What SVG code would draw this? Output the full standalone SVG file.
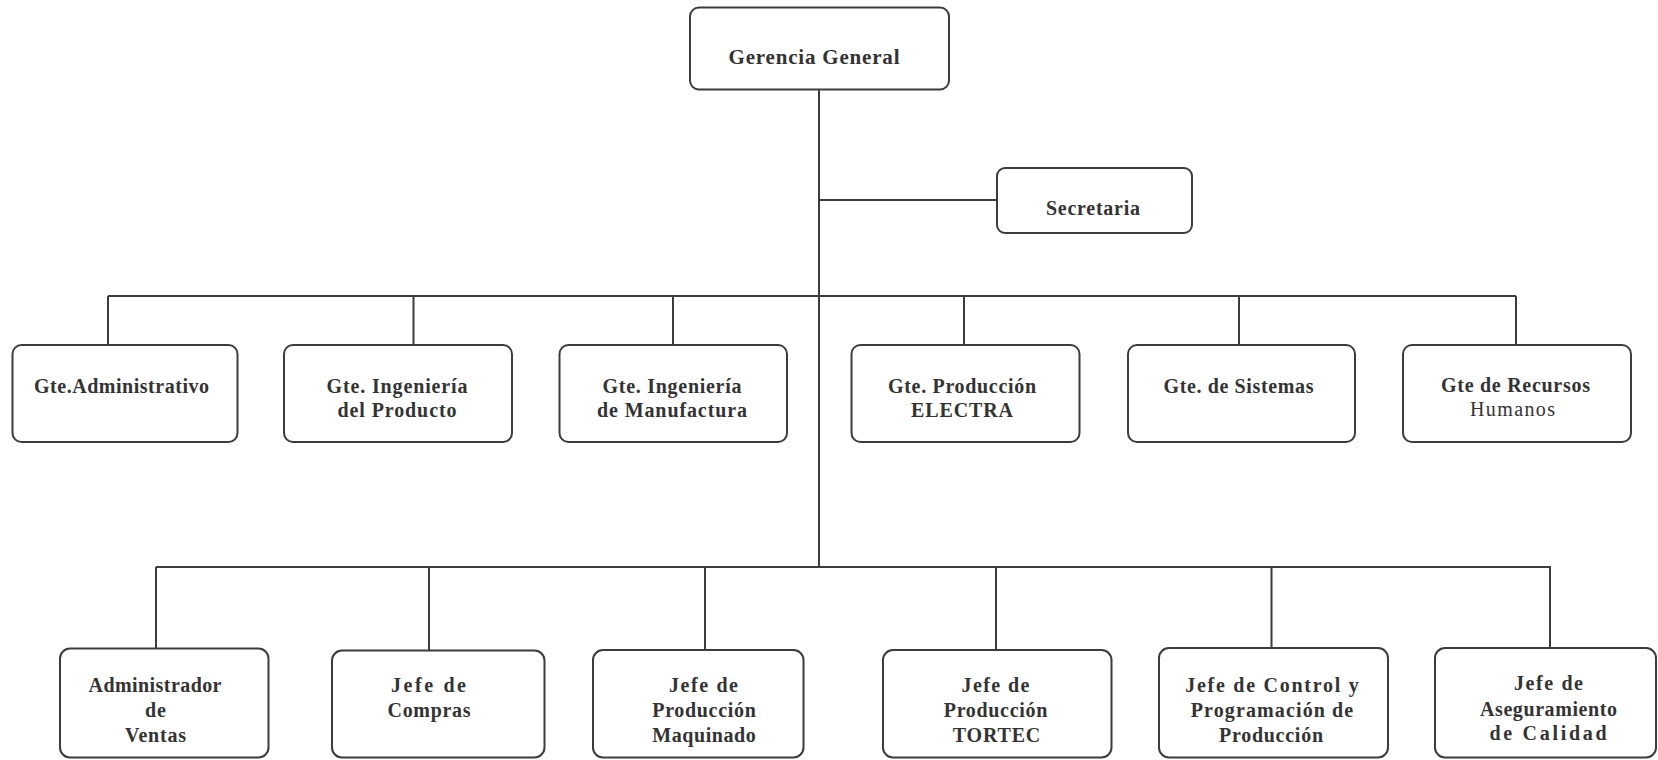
<svg xmlns="http://www.w3.org/2000/svg" width="1658" height="760" viewBox="0 0 1658 760">
<style>
.box{fill:#fff;stroke:#3c3c3c;stroke-width:2}
.ln{stroke:#3c3c3c;stroke-width:2;fill:none}
text{font-family:"Liberation Serif","Times New Roman",serif;font-weight:bold;fill:#333;text-anchor:middle}
.t1{font-size:21px}
.t2{font-size:20px}
.t3{font-size:20px}
.reg{font-weight:normal}
</style>
<rect width="1658" height="760" fill="#fff"/>
<g id="connectors">
<path class="ln" d="M819 89 V567"/>
<path class="ln" d="M819 200 H997"/>
<path class="ln" d="M108 296 H1516"/>
<path class="ln" d="M108 296 V345 M413.5 296 V345 M673 296 V345 M964 296 V345 M1239 296 V345 M1516 296 V345"/>
<path class="ln" d="M156 567 H1551"/>
<path class="ln" d="M156 567 V649 M429 567 V651 M705 567 V650 M996 567 V650 M1271.5 567 V648 M1550 567 V648"/>
</g>
<g id="gerencia"><rect class="box" x="690" y="7.5" width="259" height="82" rx="9"/><text class="t1" x="814" y="64" textLength="171" lengthAdjust="spacing">Gerencia General</text></g>
<g id="secretaria"><rect class="box" x="997" y="168" width="195" height="65" rx="8"/><text class="t2" x="1093" y="215" textLength="94" lengthAdjust="spacing">Secretaria</text></g>
<g id="gte-admin"><rect class="box" x="12.5" y="345" width="225" height="97" rx="9"/><text class="t2" x="121.5" y="393" textLength="175" lengthAdjust="spacing">Gte.Administrativo</text></g>
<g id="gte-ing-prod"><rect class="box" x="284" y="345" width="228" height="97" rx="9"/><text class="t2" x="397" y="393" textLength="141" lengthAdjust="spacing">Gte. Ingeniería</text><text class="t2" x="397" y="417" textLength="119" lengthAdjust="spacing">del Producto</text></g>
<g id="gte-ing-manu"><rect class="box" x="559.5" y="345" width="227.5" height="97" rx="9"/><text class="t2" x="672" y="393" textLength="139" lengthAdjust="spacing">Gte. Ingeniería</text><text class="t2" x="672" y="417" textLength="150" lengthAdjust="spacing">de Manufactura</text></g>
<g id="gte-prod-electra"><rect class="box" x="851.5" y="345" width="228" height="97" rx="9"/><text class="t2" x="962" y="393" textLength="148" lengthAdjust="spacing">Gte. Producción</text><text class="t2" x="962" y="417" textLength="102" lengthAdjust="spacing">ELECTRA</text></g>
<g id="gte-sistemas"><rect class="box" x="1128" y="345" width="227" height="97" rx="9"/><text class="t2" x="1238.5" y="393" textLength="150" lengthAdjust="spacing">Gte. de Sistemas</text></g>
<g id="gte-rrhh"><rect class="box" x="1403" y="345" width="228" height="97" rx="9"/><text class="t2" x="1515.5" y="392" textLength="149" lengthAdjust="spacing">Gte de Recursos</text><text class="t2 reg" x="1512.5" y="416" textLength="85" lengthAdjust="spacing">Humanos</text></g>
<g id="adm-ventas"><rect class="box" x="60" y="648.5" width="208.5" height="109" rx="10"/><text class="t3" x="155" y="692" textLength="133" lengthAdjust="spacing">Administrador</text><text class="t3" x="155.5" y="716.5" textLength="21" lengthAdjust="spacing">de</text><text class="t3" x="155.5" y="741.5" textLength="61" lengthAdjust="spacing">Ventas</text></g>
<g id="jefe-compras"><rect class="box" x="332" y="650.5" width="212.5" height="107" rx="10"/><text class="t3" x="428.5" y="692" textLength="75" lengthAdjust="spacing">Jefe de</text><text class="t3" x="429" y="717" textLength="83" lengthAdjust="spacing">Compras</text></g>
<g id="jefe-maquinado"><rect class="box" x="593" y="650" width="210.5" height="107.5" rx="10"/><text class="t3" x="703.5" y="692" textLength="69" lengthAdjust="spacing">Jefe de</text><text class="t3" x="704" y="717" textLength="103.5" lengthAdjust="spacing">Producción</text><text class="t3" x="704" y="742" textLength="103.5" lengthAdjust="spacing">Maquinado</text></g>
<g id="jefe-tortec"><rect class="box" x="883" y="650" width="228.5" height="107.5" rx="10"/><text class="t3" x="995.5" y="692" textLength="68" lengthAdjust="spacing">Jefe de</text><text class="t3" x="995.5" y="717" textLength="103.5" lengthAdjust="spacing">Producción</text><text class="t3" x="996.5" y="742" textLength="87.5" lengthAdjust="spacing">TORTEC</text></g>
<g id="jefe-control"><rect class="box" x="1159" y="648" width="229" height="109.5" rx="10"/><text class="t3" x="1272" y="692" textLength="173.5" lengthAdjust="spacing">Jefe de Control y</text><text class="t3" x="1272" y="716.5" textLength="162.5" lengthAdjust="spacing">Programación de</text><text class="t3" x="1271" y="741.5" textLength="104" lengthAdjust="spacing">Producción</text></g>
<g id="jefe-calidad"><rect class="box" x="1435" y="648" width="221" height="109.5" rx="10"/><text class="t3" x="1548.5" y="690" textLength="69" lengthAdjust="spacing">Jefe de</text><text class="t3" x="1548.5" y="716" textLength="137" lengthAdjust="spacing">Aseguramiento</text><text class="t3" x="1548" y="740" textLength="117" lengthAdjust="spacing">de Calidad</text></g>
</svg>
